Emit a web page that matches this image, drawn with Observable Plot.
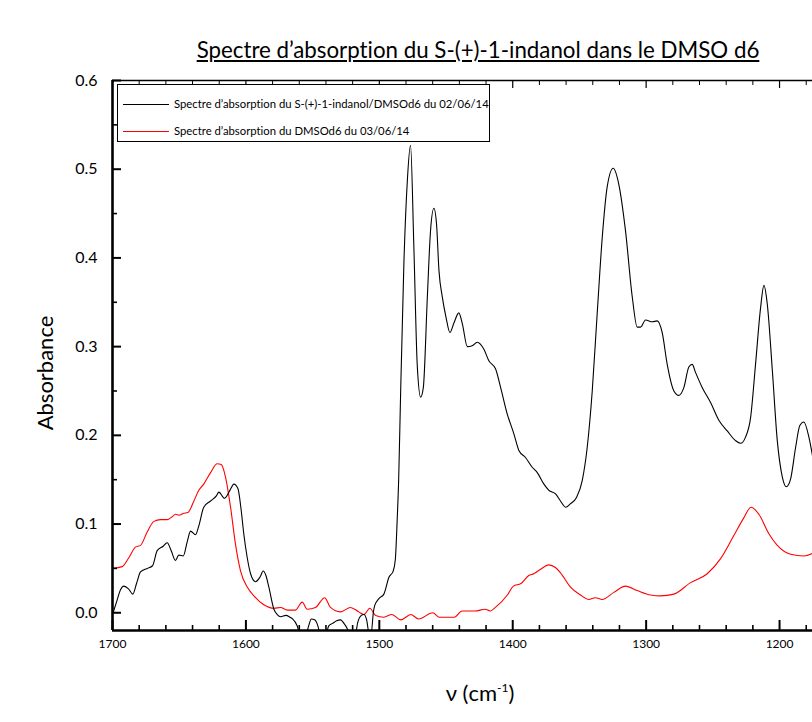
<!DOCTYPE html>
<html><head><meta charset="utf-8">
<script src="https://cdn.jsdelivr.net/npm/d3@7"></script>
<script src="https://cdn.jsdelivr.net/npm/@observablehq/plot@0.6"></script>
<style>
body{margin:0;background:#fff;}
#wrap{position:relative;width:812px;height:722px;overflow:hidden;font-family:Lato,"Open Sans",sans-serif;color:#000;font-variant-ligatures:none;}
#title{position:absolute;left:178px;width:600px;top:36px;text-align:center;font-size:22.3px;text-decoration:underline;white-space:nowrap;}
#legend{position:absolute;left:117px;top:84px;width:373px;height:58px;border:1px solid #000;box-sizing:border-box;background:#fff;font-size:11.3px;}
.row{position:absolute;left:0;height:16px;white-space:nowrap;}
.row .sw{position:absolute;left:5px;top:8px;width:46px;height:0;border-top:1px solid;}
.row .lb{position:absolute;left:56px;top:0;line-height:16px;}
#ylab{position:absolute;left:44px;top:373px;transform:translate(-50%,-50%) rotate(-90deg);font-size:22px;white-space:nowrap;}
#xlab{position:absolute;left:480px;top:692px;transform:translate(-50%,-50%);font-size:22px;white-space:nowrap;}
#xlab sup{font-size:12px;}
svg text{font-variant-ligatures:none;}
</style></head><body>
<div id="wrap">
  <div id="chart"></div>
  <div id="title"></div>
  <div id="legend"></div>
  <div id="ylab"></div>
  <div id="xlab"></div>
</div>
<script>
const titleText = "Spectre d’absorption du S-(+)-1-indanol dans le DMSO d6";
const seriesNames = ["Spectre d’absorption du S-(+)-1-indanol/DMSOd6 du 02/06/14", "Spectre d’absorption du DMSOd6 du 03/06/14"];
const seriesColors = ["#000000", "#ff0000"];
const yLabel = "Absorbance";
const xMajorTicks = [1700, 1600, 1500, 1400, 1300, 1200];
const xMinorTicks = [1680, 1660, 1640, 1620, 1580, 1560, 1540, 1520, 1480, 1460, 1440, 1420, 1380, 1360, 1340, 1320, 1280, 1260, 1240, 1220, 1180];
const yMajorTicks = [0, 0.1, 0.2, 0.3, 0.4, 0.5, 0.6];
const yMinorTicks = [0.05, 0.15, 0.25, 0.35, 0.45, 0.55];

const sampleWavenumber = [1700,1697,1694,1691.5,1688,1684.8,1682,1679,1674,1670,1666.5,1662,1659,1656,1652.8,1650.3,1647,1644,1641.5,1637.8,1635.3,1631.6,1626.5,1622,1620.3,1616,1612,1609,1606,1603.5,1601.6,1599,1596.5,1592.8,1589.5,1587,1585,1582.8,1579,1576.5,1574,1570,1567,1565,1561.5,1558.5,1556,1553,1551,1548.5,1546,1543.5,1540.5,1538,1535,1532,1529,1526.5,1524,1521,1518.5,1516,1513.5,1511.6,1509.5,1507.8,1506,1504.5,1503.5,1500.3,1496.6,1492.8,1489.6,1488,1486.6,1485.5,1484.1,1481.6,1479,1476.6,1474.1,1471.6,1469,1467,1464,1461.6,1459.1,1457.1,1455.3,1452.8,1450,1447.1,1444,1440.4,1437.8,1434,1430.4,1426.6,1421.6,1417.9,1412.9,1409.1,1404.1,1399.2,1395.4,1390.4,1385.4,1381.6,1376.6,1372.9,1367.9,1364.2,1360.4,1356.7,1352.2,1347.9,1344.2,1340.4,1336.7,1332.9,1329.2,1324.7,1320.5,1315.5,1310.4,1306.7,1304.2,1300.4,1295.4,1291.7,1288,1284.2,1279.2,1275.5,1271.7,1268,1265.5,1263,1258,1251.7,1245.5,1239.2,1233,1229.2,1225.5,1221.7,1218,1214.2,1211.7,1209.2,1205.4,1201.7,1197.9,1194.9,1191.7,1188,1184.8,1181.8,1178,1175.3];
const sampleAbsorbance = [-0.002,0.012,0.026,0.030,0.027,0.021,0.033,0.046,0.050,0.053,0.070,0.075,0.079,0.070,0.059,0.065,0.064,0.080,0.092,0.088,0.098,0.119,0.126,0.132,0.136,0.129,0.138,0.145,0.140,0.115,0.089,0.062,0.044,0.035,0.040,0.047,0.042,0.029,0.004,-0.002,-0.0045,-0.003,-0.005,-0.007,-0.015,-0.030,-0.030,-0.015,-0.007,-0.008,-0.015,-0.030,-0.028,-0.015,-0.012,-0.009,-0.008,-0.012,-0.018,-0.030,-0.028,-0.010,-0.003,-0.002,-0.008,-0.022,-0.022,0.000,0.008,0.016,0.021,0.040,0.047,0.060,0.105,0.150,0.243,0.393,0.487,0.527,0.412,0.280,0.243,0.254,0.356,0.431,0.456,0.438,0.386,0.356,0.333,0.316,0.327,0.338,0.326,0.300,0.301,0.305,0.297,0.284,0.275,0.254,0.224,0.202,0.183,0.175,0.164,0.158,0.145,0.138,0.134,0.126,0.119,0.123,0.130,0.149,0.186,0.250,0.337,0.423,0.480,0.501,0.483,0.431,0.356,0.322,0.322,0.330,0.328,0.329,0.316,0.280,0.250,0.245,0.254,0.277,0.280,0.271,0.254,0.237,0.217,0.205,0.194,0.191,0.198,0.220,0.280,0.344,0.369,0.348,0.273,0.194,0.153,0.142,0.151,0.186,0.211,0.215,0.198,0.177];

const solventWavenumber = [1700,1692.7,1687.8,1682.8,1679,1674,1669,1664,1659,1655.5,1652.8,1650,1647,1643.5,1639,1635.3,1631.6,1626.5,1621.5,1618.5,1615.3,1611.5,1607.8,1604,1599,1594,1586.6,1579,1574,1569,1562.8,1557.8,1554,1547.8,1541,1536.6,1529,1521.6,1515.4,1511.6,1507.1,1502.8,1496.6,1490.6,1484,1476.4,1470.6,1459.9,1455.3,1443.8,1438,1428.3,1420.7,1416.9,1413,1404,1399.5,1393.8,1388,1384.2,1379.2,1372.9,1368,1364.2,1356.7,1349.2,1343,1338,1333,1324.2,1315.5,1306.7,1296.7,1289.2,1279.2,1266.7,1254.2,1244.2,1234.3,1226.8,1221.3,1215.5,1208,1201.7,1191.7,1181.8,1175.3];
const solventAbsorbance = [0.050,0.052,0.062,0.074,0.076,0.091,0.103,0.105,0.105,0.108,0.111,0.110,0.112,0.113,0.126,0.138,0.145,0.158,0.168,0.167,0.153,0.119,0.077,0.047,0.029,0.019,0.009,0.005,0.006,0.003,0.003,0.012,0.004,0.006,0.017,0.006,0.001,0.006,0.001,-0.002,0.005,-0.003,-0.005,-0.002,-0.008,-0.002,-0.007,0.000,-0.005,-0.005,0.002,0.002,0.004,0.002,0.006,0.020,0.030,0.033,0.042,0.044,0.049,0.054,0.051,0.045,0.029,0.020,0.015,0.017,0.015,0.023,0.030,0.025,0.020,0.019,0.021,0.034,0.044,0.061,0.087,0.107,0.119,0.111,0.089,0.076,0.066,0.064,0.067];

const sample = sampleWavenumber.map((w, i) => ({w, a: sampleAbsorbance[i]}));
const solvent = solventWavenumber.map((w, i) => ({w, a: solventAbsorbance[i]}));

const chart = Plot.plot({
  width: 812, height: 722,
  marginTop: 80, marginBottom: 92, marginLeft: 112, marginRight: 0,
  style: {fontFamily: "Lato, 'Open Sans', sans-serif", background: "white", color: "black"},
  x: {domain: [1700, 1175.3]},
  y: {domain: [-0.02, 0.6]},
  marks: [
    Plot.line(solvent, {x: "w", y: "a", stroke: seriesColors[1], strokeWidth: 1.1, curve: "monotone-x", clip: true}),
    Plot.line(sample, {x: "w", y: "a", stroke: seriesColors[0], strokeWidth: 1.1, curve: "monotone-x", clip: true}),
    Plot.axisX({ticks: xMajorTicks, anchor: "bottom", tickSize: -10, strokeWidth: 2, text: null, label: null}),
    Plot.axisX({ticks: xMinorTicks, anchor: "bottom", tickSize: -5, strokeWidth: 1.6, text: null, label: null}),
    Plot.axisX({ticks: xMajorTicks, anchor: "bottom", tickSize: 0, tickPadding: 9, fontSize: 12, tickFormat: d => String(d), label: null}),
    Plot.axisX({ticks: xMajorTicks, anchor: "top", tickSize: -7, strokeWidth: 1.2, text: null, label: null}),
    Plot.axisX({ticks: xMinorTicks, anchor: "top", tickSize: -4, strokeWidth: 1, text: null, label: null}),
    Plot.axisY({ticks: yMajorTicks, anchor: "left", tickSize: -9, strokeWidth: 2, text: null, label: null}),
    Plot.axisY({ticks: yMinorTicks, anchor: "left", tickSize: -5, strokeWidth: 1.6, text: null, label: null}),
    Plot.axisY({ticks: yMajorTicks, anchor: "left", tickSize: 0, tickPadding: 15, fontSize: 16, tickFormat: d3.format(".1f"), label: null}),
    Plot.ruleX([1700], {strokeWidth: 2.6}),
    Plot.ruleY([-0.02], {strokeWidth: 2.6}),
    Plot.ruleY([0.6], {strokeWidth: 1.6})
  ]
});
document.getElementById("chart").appendChild(chart);

document.getElementById("title").textContent = titleText;
document.getElementById("ylab").textContent = yLabel;
document.getElementById("xlab").innerHTML = "ν (cm<sup>-1</sup>)";
const legend = document.getElementById("legend");
seriesNames.forEach((name, i) => {
  const row = document.createElement("div");
  row.className = "row";
  row.style.top = (i === 0 ? 11 : 38) + "px";
  const sw = document.createElement("div");
  sw.className = "sw";
  sw.style.borderTopColor = seriesColors[i];
  const lb = document.createElement("div");
  lb.className = "lb";
  lb.textContent = name;
  row.appendChild(sw); row.appendChild(lb);
  legend.appendChild(row);
});
</script>
</body></html>
